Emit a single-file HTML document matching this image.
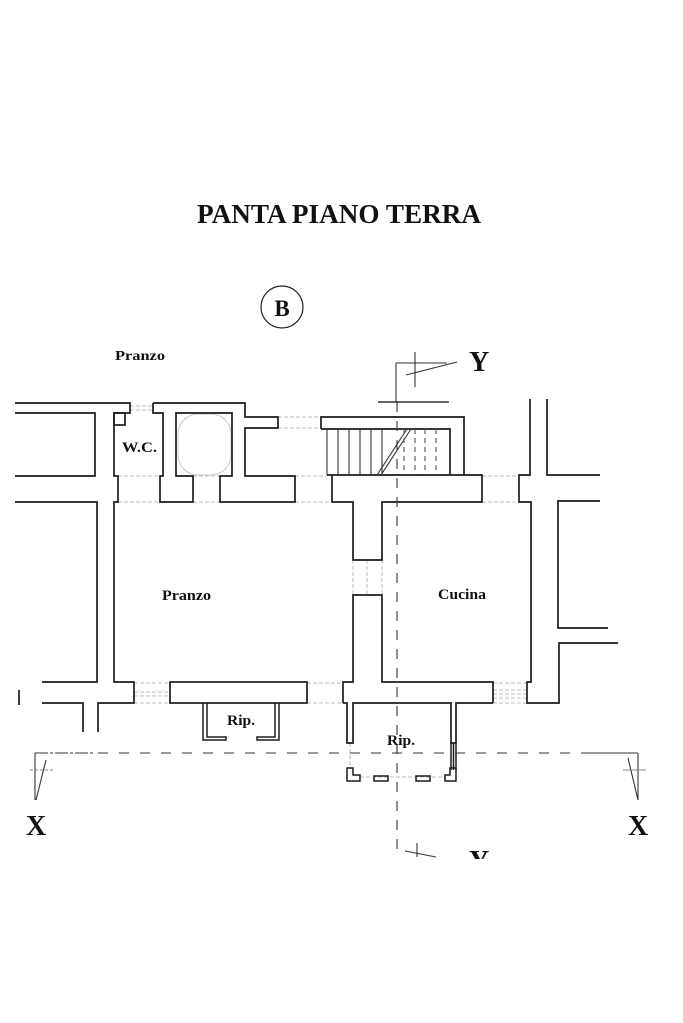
<!DOCTYPE html>
<html><head><meta charset="utf-8"><style>
html,body{margin:0;padding:0;background:#fff;}
svg{display:block;}
text{font-family:"Liberation Serif",serif;font-weight:bold;fill:#111;}
</style></head><body>
<svg width="683" height="1023" viewBox="0 0 683 1023" xmlns="http://www.w3.org/2000/svg">
<rect width="683" height="1023" fill="#fff"/>

<!-- Title -->
<text x="197" y="223" font-size="27" textLength="284" lengthAdjust="spacingAndGlyphs">PANTA PIANO TERRA</text>

<!-- Circle B -->
<circle cx="282" cy="307" r="21" fill="none" stroke="#222" stroke-width="1.2"/>
<text x="282" y="316" font-size="23" text-anchor="middle">B</text>

<text x="115" y="360" font-size="14" textLength="50" lengthAdjust="spacingAndGlyphs">Pranzo</text>

<!-- faint lines -->
<g stroke="#bdbdbd" stroke-width="1" fill="none" stroke-dasharray="4,2">
  <line x1="130" y1="406" x2="153" y2="406"/>
  <line x1="130" y1="410" x2="153" y2="410"/>
  <line x1="278" y1="417" x2="321" y2="417"/>
  <line x1="278" y1="428" x2="321" y2="428"/>
  <line x1="295" y1="476" x2="327" y2="476"/>
  <line x1="295" y1="502" x2="332" y2="502"/>
  <line x1="118" y1="476" x2="160" y2="476"/>
  <line x1="118" y1="502" x2="160" y2="502"/>
  <line x1="193" y1="476" x2="220" y2="476"/>
  <line x1="193" y1="502" x2="220" y2="502"/>
  <line x1="482" y1="476" x2="519" y2="476"/>
  <line x1="482" y1="502" x2="519" y2="502"/>
  <line x1="134" y1="683" x2="170" y2="683"/>
  <line x1="134" y1="692" x2="170" y2="692"/>
  <line x1="134" y1="696" x2="170" y2="696"/>
  <line x1="134" y1="703" x2="170" y2="703"/>
  <line x1="307" y1="683" x2="343" y2="683"/>
  <line x1="307" y1="703" x2="343" y2="703"/>
  <line x1="493" y1="683" x2="527" y2="683"/>
  <line x1="493" y1="690" x2="527" y2="690"/>
  <line x1="493" y1="694" x2="527" y2="694"/>
  <line x1="493" y1="698" x2="527" y2="698"/>
  <line x1="493" y1="703" x2="527" y2="703"/>
  <line x1="360" y1="777" x2="445" y2="777"/>
  <line x1="350" y1="743" x2="350" y2="768"/>
  <line x1="367" y1="560" x2="367" y2="595"/>
  <line x1="353" y1="560" x2="353" y2="595"/>
  <line x1="382" y1="560" x2="382" y2="595"/>
</g>
<rect x="178" y="414" width="53" height="61" rx="20" fill="none" stroke="#c8c8c8" stroke-width="1"/>

<!-- walls -->
<g stroke="#1c1c1c" stroke-width="1.7" fill="none" stroke-linejoin="miter">
  <polyline points="15,403 130,403 130,413 114,413 114,476 118,476 118,502 114,502 114,682 134,682 134,703 98,703 98,732"/>
  <rect x="114" y="413" width="11" height="12"/>
  <polyline points="15,413 95,413 95,476 15,476"/>
  <polyline points="15,502 97,502 97,682 42,682"/>
  <polyline points="42,703 83,703 83,732"/>
  <line x1="19" y1="690" x2="19" y2="705"/>
  <polyline points="153,403 245,403 245,417 278,417 278,428 245,428 245,476 295,476 295,502 220,502 220,476 232,476 232,413 176,413 176,476 193,476 193,502 160,502 160,476 163,476 163,413 153,413 153,403"/>
  <polyline points="321,429 321,417 464,417 464,475"/>
  <polyline points="321,429 450,429 450,475"/>
  <polyline points="327,475 482,475 482,502 382,502 382,560 353,560 353,502 332,502 332,475"/>
  <polyline points="343,703 343,682 353,682 353,595 382,595 382,682 493,682 493,703"/>
  <polyline points="343,703 347,703 347,743 353,743 353,703 451,703 451,743 456,743 456,703 493,703"/>
  <polyline points="530,399 530,475 519,475 519,502 531,502 531,682 527,682 527,703 559,703 559,643 618,643"/>
  <polyline points="547,399 547,475 600,475"/>
  <polyline points="600,501 558,501 558,628 608,628"/>
  <rect x="170" y="682" width="137" height="21"/>
</g>
<!-- stair treads -->
<g stroke="#333" stroke-width="1.1">
  <line x1="327" y1="429" x2="327" y2="475"/>
  <line x1="338" y1="429" x2="338" y2="475"/>
  <line x1="349" y1="429" x2="349" y2="475"/>
  <line x1="360" y1="429" x2="360" y2="475"/>
  <line x1="371" y1="429" x2="371" y2="475"/>
  <line x1="382" y1="429" x2="382" y2="475"/>
  <line x1="377" y1="475" x2="407" y2="429"/>
  <line x1="381" y1="475" x2="411" y2="429"/>
</g>
<g stroke="#555" stroke-width="1.1" stroke-dasharray="5,4">
  <line x1="404" y1="429" x2="404" y2="475"/>
  <line x1="415" y1="429" x2="415" y2="475"/>
  <line x1="425" y1="429" x2="425" y2="475"/>
  <line x1="436" y1="429" x2="436" y2="475"/>
</g>

<!-- Rip left -->
<g stroke="#1c1c1c" stroke-width="1.5" fill="none">
  <polyline points="203,703 203,740 226,740 226,737 207,737 207,703"/>
  <polyline points="279,703 279,740 257,740 257,737 275,737 275,703"/>
  <polygon points="347,768 353,768 353,775 360,775 360,781 347,781"/>
  <rect x="374" y="776" width="14" height="5"/>
  <rect x="416" y="776" width="14" height="5"/>
  <polygon points="450,768 456,768 456,781 445,781 445,775 450,775"/>
  <line x1="451" y1="743" x2="451" y2="770"/>
  <line x1="453.5" y1="743" x2="453.5" y2="770"/>
  <line x1="456" y1="743" x2="456" y2="770"/>
</g>

<!-- section lines -->
<g stroke="#333" stroke-width="1.1" fill="none">
  <line x1="35" y1="753" x2="638" y2="753" stroke-dasharray="10,11"/>
  <line x1="35" y1="753" x2="95" y2="753" stroke-dasharray="3,2"/>
  <line x1="585" y1="753" x2="638" y2="753"/>
  <line x1="35" y1="753" x2="35" y2="800"/>
  <line x1="36" y1="800" x2="46" y2="760"/>
  <line x1="30" y1="770" x2="53" y2="770" stroke="#888" stroke-dasharray="3,2"/>
  <line x1="638" y1="753" x2="638" y2="800"/>
  <line x1="638" y1="800" x2="628" y2="758"/>
  <line x1="623" y1="770" x2="646" y2="770" stroke="#888"/>
  <line x1="397" y1="402" x2="397" y2="857" stroke-dasharray="10,9"/>
  <polyline points="396,402 396,363 447,363"/>
  <line x1="406" y1="375" x2="457" y2="362"/>
  <line x1="415" y1="352" x2="415" y2="387"/>
  <line x1="378" y1="402" x2="449" y2="402" stroke-width="1.6"/>
  <line x1="405" y1="851" x2="436" y2="857"/>
  <line x1="417" y1="843" x2="417" y2="857"/>
</g>

<!-- labels -->
<text x="122" y="452" font-size="15" textLength="35" lengthAdjust="spacingAndGlyphs">W.C.</text>
<text x="162" y="600" font-size="15" textLength="49" lengthAdjust="spacingAndGlyphs">Pranzo</text>
<text x="438" y="599" font-size="15" textLength="48" lengthAdjust="spacingAndGlyphs">Cucina</text>
<text x="227" y="725" font-size="15" textLength="28" lengthAdjust="spacingAndGlyphs">Rip.</text>
<text x="387" y="745" font-size="15" textLength="28" lengthAdjust="spacingAndGlyphs">Rip.</text>
<text x="26" y="835" font-size="28">X</text>
<text x="628" y="835" font-size="28">X</text>
<text x="469" y="371" font-size="28">Y</text>
<text x="469" y="870" font-size="28">Y</text>
<rect x="440" y="859" width="80" height="40" fill="#fff"/>
</svg>
</body></html>
